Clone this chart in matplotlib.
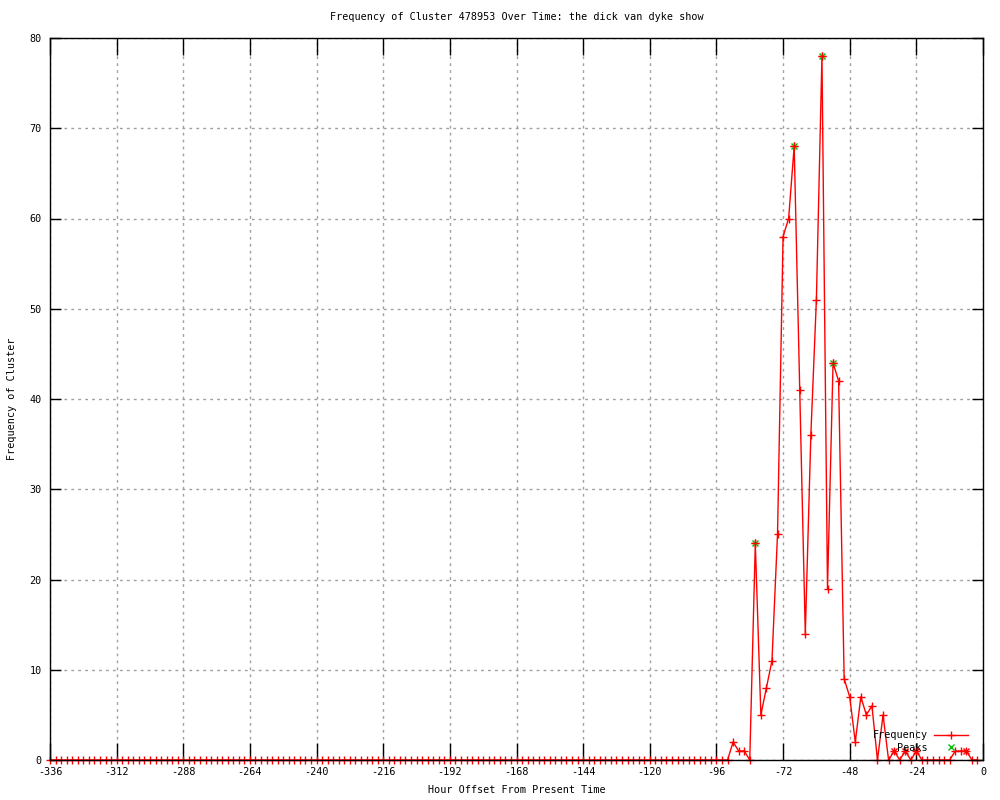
import numpy as np
import matplotlib
matplotlib.use("Agg")
import matplotlib.pyplot as plt
from matplotlib.lines import Line2D

# ---- data ----
hours = list(range(-336, 0, 2))  # -336 ... -2, every 2 hours
frequency = [
    # -336 .. -92 (all zero)
    0, 0, 0, 0, 0, 0, 0, 0, 0, 0, 0, 0, 0, 0, 0, 0, 0, 0, 0, 0,
    0, 0, 0, 0, 0, 0, 0, 0, 0, 0, 0, 0, 0, 0, 0, 0, 0, 0, 0, 0,
    0, 0, 0, 0, 0, 0, 0, 0, 0, 0, 0, 0, 0, 0, 0, 0, 0, 0, 0, 0,
    0, 0, 0, 0, 0, 0, 0, 0, 0, 0, 0, 0, 0, 0, 0, 0, 0, 0, 0, 0,
    0, 0, 0, 0, 0, 0, 0, 0, 0, 0, 0, 0, 0, 0, 0, 0, 0, 0, 0, 0,
    0, 0, 0, 0, 0, 0, 0, 0, 0, 0, 0, 0, 0, 0, 0, 0, 0, 0, 0, 0,
    0, 0, 0,
    # -90 .. -2
    2, 1, 1, 0, 24, 5, 8, 11, 25, 58, 60, 68, 41, 14, 36, 51, 78, 19, 44, 42,
    9, 7, 2, 7, 5, 6, 0, 5, 0, 1, 0, 1, 0, 1, 0, 0, 0, 0, 0, 0,
    1, 1, 1, 0, 0,
]
peak_hours = [-82, -68, -58, -54]
peak_values = [24, 68, 78, 44]
minor_peak_hours = [-32, -28, -24, -6]
minor_peak_values = [1, 1, 1, 1]

x_ticks = list(range(-336, 1, 24))
y_ticks = list(range(0, 81, 10))

title = "Frequency of Cluster 478953 Over Time: the dick van dyke show"
xlabel = "Hour Offset From Present Time"
ylabel = "Frequency of Cluster"

# ---- style ----
plt.rcParams['font.family'] = ['DejaVu Sans Mono', 'DejaVu Sans']
FS = 7.3

fig = plt.figure(figsize=(10, 8), dpi=100)
ax = fig.add_axes([0.050, 0.050, 0.933, 0.9025])

ax.plot(hours, frequency, color='#ff0000', lw=1.0, marker='+', ms=6,
        mew=1.0, clip_on=False, zorder=2)
ax.plot(minor_peak_hours, minor_peak_values, ls='none', marker='x',
        color='#ff0000', ms=4.5, mew=1.0, clip_on=False, zorder=3)
ax.plot(peak_hours, peak_values, ls='none', marker='x', color='#00c000',
        ms=5, mew=1.0, clip_on=False, zorder=4)
ax.plot(peak_hours, peak_values, ls='none', marker='+', color='#ff0000',
        ms=6, mew=1.0, clip_on=False, zorder=5)

ax.set_xlim(-336, 0)
ax.set_ylim(0, 80)
ax.set_xticks(x_ticks)
ax.set_xticklabels([str(t) for t in x_ticks], fontsize=FS)
ax.set_yticks(y_ticks)
ax.set_yticklabels([str(t) for t in y_ticks], fontsize=FS)
ax.tick_params(axis='x', direction='in', length=12, width=1.0, top=True,
               pad=5, colors='black')
ax.tick_params(axis='y', direction='in', length=8, width=1.0, right=True,
               pad=6, colors='black')

ax.grid(True, color='#a0a0a0', ls=(0, (2, 3)), lw=1.0)
ax.set_axisbelow(True)
for s in ax.spines.values():
    s.set_linewidth(1.0)
    s.set_color('black')
    s.set_zorder(2.5)

ax.set_title(title, fontsize=FS, pad=13)
ax.set_xlabel(xlabel, fontsize=FS, labelpad=6)
ax.set_ylabel(ylabel, fontsize=FS, labelpad=9)

handles = [
    Line2D([0], [0], color='#ff0000', lw=1.0, marker='+', ms=6, mew=1.0),
    Line2D([0], [0], color='#00c000', ls='none', marker='x', ms=5, mew=1.0),
]
leg = ax.legend(handles, ['Frequency', 'Peaks'], loc='lower right',
                bbox_to_anchor=(0.992, 0.0), frameon=False, markerfirst=False,
                fontsize=FS, handlelength=3.4, handletextpad=0.6,
                labelspacing=0.25, borderaxespad=0.3, numpoints=1)

fig.savefig('out.png', dpi=100)
